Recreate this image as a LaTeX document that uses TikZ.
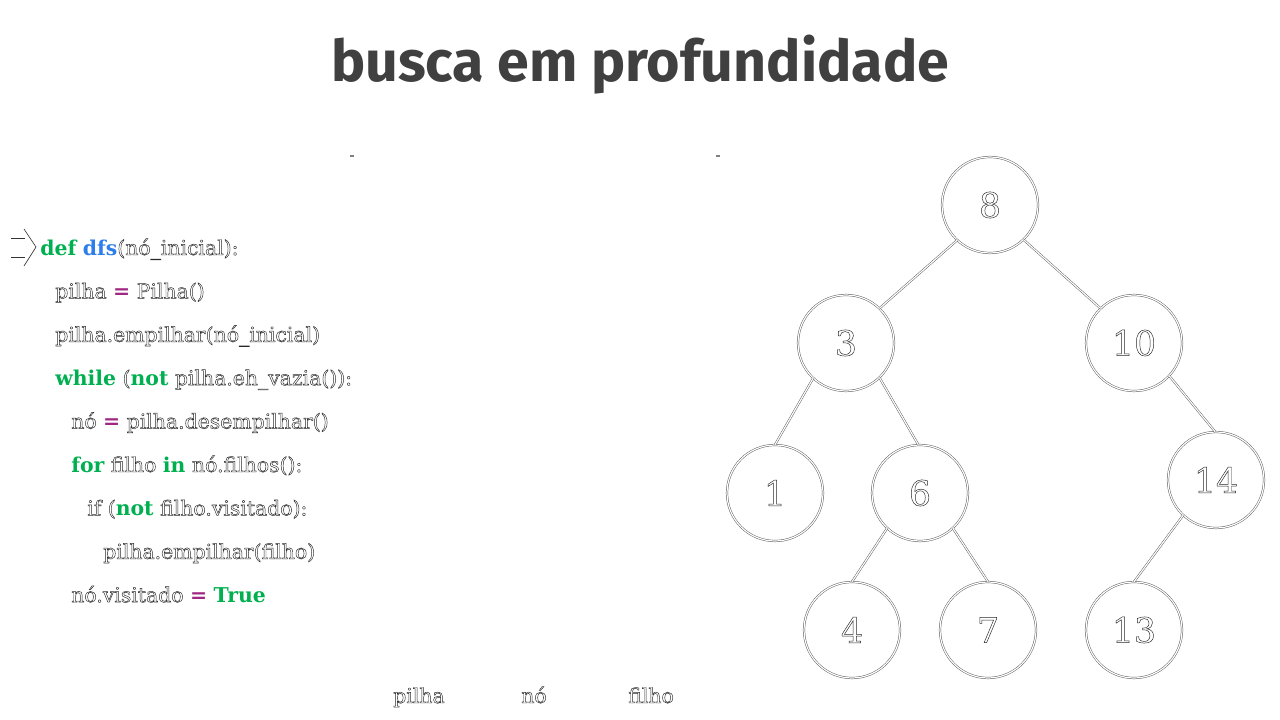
\documentclass[tikz,border=0pt]{standalone}
\usepackage{fontspec}
\setmainfont{DejaVu Serif}
\newfontfamily\titlefont{Fira Sans}
\definecolor{kwgreen}{RGB}{0,176,80}
\definecolor{fnblue}{RGB}{45,125,235}
\definecolor{opmag}{RGB}{160,40,130}
\definecolor{titlegray}{RGB}{64,64,64}
\definecolor{outl}{RGB}{40,40,40}
\newcommand{\ol}[1]{{\color{outl}\special{pdf:literal direct 1 Tr 0.35 w}#1\special{pdf:literal direct 0 Tr}}}
\newcommand{\kw}[1]{{\bfseries\color{kwgreen}#1}}
\newcommand{\fn}[1]{{\bfseries\color{fnblue}#1}}
\newcommand{\op}[1]{{\bfseries\color{opmag}#1}}
\tikzset{
  code/.style={anchor=base west, inner sep=0pt, font=\fontsize{15.3}{18}\selectfont},
  lbl/.style={anchor=base west, inner sep=0pt, font=\fontsize{15.3}{18}\selectfont},
  tnode/.style={circle, minimum size=72pt, inner sep=0pt, draw=black!65, line width=0.35pt, double=white, double distance=0.9pt, fill=white, font=\fontsize{26}{30}\selectfont},
  edge/.style={draw=black!65, line width=0.35pt, double=white, double distance=0.9pt},
  thin/.style={draw=black!80, line width=0.5pt},
  tick/.style={draw=gray, line width=1pt}
}
\begin{document}
\begin{tikzpicture}[x=0.75pt,y=-0.75pt]
\useasboundingbox (0,0) rectangle (1280,720);
% title
\node[anchor=base, inner sep=0pt, text=titlegray, font=\titlefont\bfseries\fontsize{43}{52}\selectfont] (title) at (640,82) {busca em profundidade};
% ticks
\draw[tick] (350,156) -- (354,156);
\draw[tick] (716,156) -- (720,156);
% arrow marker
\coordinate (a1) at (11,238);
\coordinate (a2) at (25,238);
\coordinate (a3) at (11,257);
\coordinate (a4) at (25,257);
\coordinate (a5) at (24,229);
\coordinate (a6) at (36,247);
\coordinate (a7) at (24,266);
\draw[thin] (a1) -- (a2);
\draw[thin] (a3) -- (a4);
\draw[thin] (a5) -- (a6) -- (a7);
% code
\node[code] (c1) at (40,255) {\kw{def} \fn{dfs}\ol{(nó\_inicial):}};
\node[code] (c2) at (55,298.4) {\ol{pilha} \op{=} \ol{Pilha()}};
\node[code] (c3) at (55,341.8) {\ol{pilha.empilhar(nó\_inicial)}};
\node[code] (c4) at (55,385.2) {\kw{while} \ol{(}\kw{not} \ol{pilha.eh\_vazia()):}};
\node[code] (c5) at (71,428.6) {\ol{nó} \op{=} \ol{pilha.desempilhar()}};
\node[code] (c6) at (71,472) {\kw{for} \ol{filho} \kw{in} \ol{nó.filhos():}};
\node[code] (c7) at (87,515.4) {\ol{if (}\kw{not} \ol{filho.visitado):}};
\node[code] (c8) at (103,558.8) {\ol{pilha.empilhar(filho)}};
\node[code] (c9) at (71,602.2) {\ol{nó.visitado} \op{=} \kw{True}};
% bottom labels
\node[lbl] (p) at (393,703) {\ol{pilha}};
\node[lbl] (n) at (521,703) {\ol{nó}};
\node[lbl] (f) at (628,703) {\ol{filho}};
% tree
\node[tnode] (n8) at (990,205) {\ol{8}};
\node[tnode] (n3) at (846,343) {\ol{3}};
\node[tnode] (n10) at (1134,343) {\ol{10}};
\node[tnode] (n1) at (775,493) {\ol{1}};
\node[tnode] (n6) at (920,493) {\ol{6}};
\node[tnode] (n14) at (1216,480) {\ol{14}};
\node[tnode] (n4) at (852,630) {\ol{4}};
\node[tnode] (n7) at (988,630) {\ol{7}};
\node[tnode] (n13) at (1134,630) {\ol{13}};
\draw[edge] (n8.227) -- (n3.46);
\draw[edge] (n8.314) -- (n10.134);
\draw[edge] (n3.227) -- (n1.90);
\draw[edge] (n3.314) -- (n6.92);
\draw[edge] (n10.317) -- (n14.91);
\draw[edge] (n6.227) -- (n4.90);
\draw[edge] (n6.313) -- (n7.90);
\draw[edge] (n14.227) -- (n13.90);
\end{tikzpicture}
\end{document}
